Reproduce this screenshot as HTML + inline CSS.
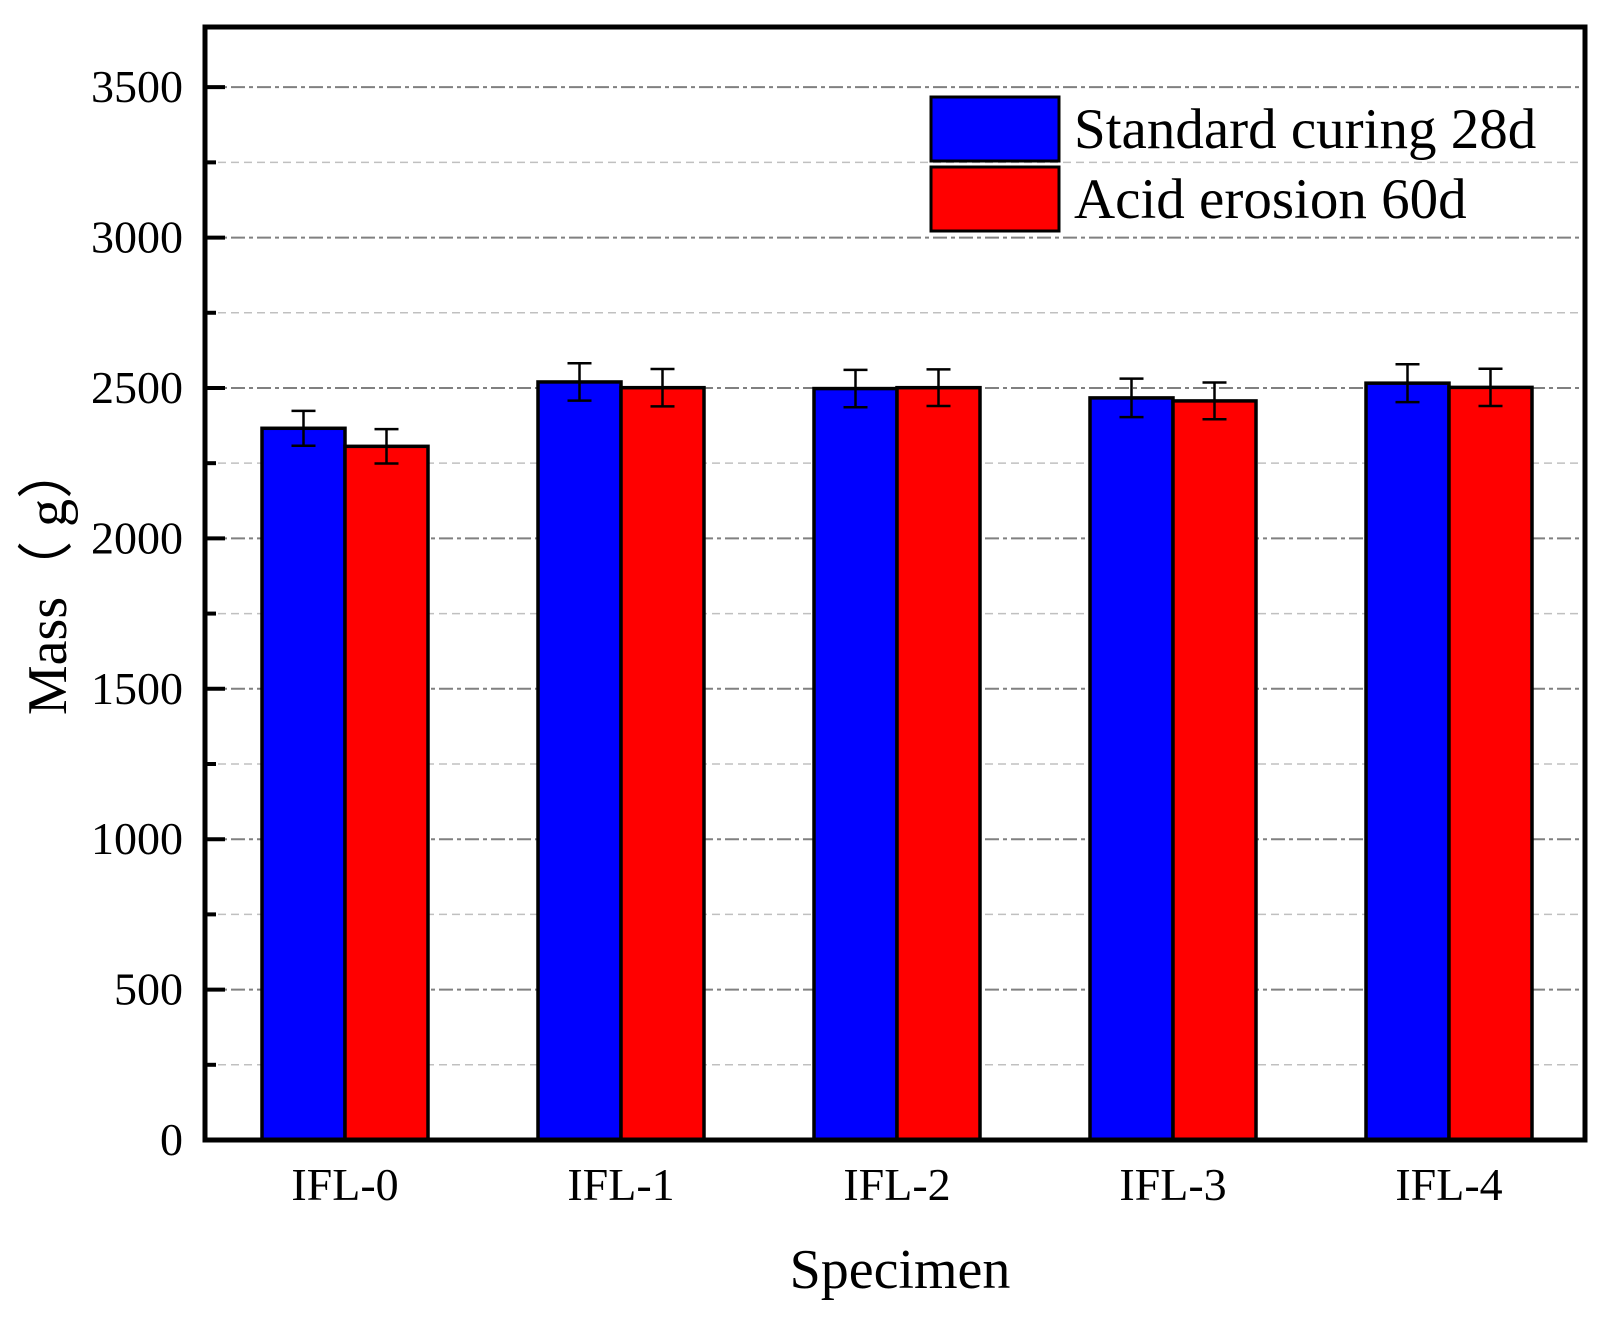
<!DOCTYPE html>
<html><head><meta charset="utf-8"><style>
html,body{margin:0;padding:0;background:#fff;}
svg{display:block;font-family:"Liberation Serif",serif;}
</style></head><body>
<svg id="chart" width="1621" height="1317" viewBox="0 0 1621 1317">
<g id="grid"></g>
<g id="bars"></g>
<g id="axes"></g>
<g>
  <rect x="931" y="97" width="128" height="64" fill="#0000ff" stroke="#000" stroke-width="3"/>
  <rect x="931" y="167" width="128" height="64" fill="#ff0000" stroke="#000" stroke-width="3"/>
  <text x="1074" y="148" font-size="57">Standard curing 28d</text>
  <text x="1074" y="218" font-size="57">Acid erosion 60d</text>
</g>
<text x="900" y="1288" font-size="56" text-anchor="middle">Specimen</text>
<text transform="translate(66,579) rotate(-90)" font-size="56" text-anchor="middle">Mass（ g）</text>
</svg>
<script>
const categories = ["IFL-0","IFL-1","IFL-2","IFL-3","IFL-4"];
const standardValues = [2366, 2520, 2498, 2467, 2516];
const acidValues = [2306, 2501, 2501, 2457, 2502];
const standardErrors = [58, 62, 62, 64, 63];
const acidErrors = [57, 62, 61, 61, 62];
const yTicks = [0, 500, 1000, 1500, 2000, 2500, 3000, 3500];
const yMinorTicks = [250, 750, 1250, 1750, 2250, 2750, 3250];

const NS = "http://www.w3.org/2000/svg";
const L = 205, R = 1585, T = 27, B = 1140, YMAX = 3700;
const y = v => B - v / YMAX * (B - T);
const xc = i => 345 + i * 276;
const BW = 83;
function mk(tag, attrs, parent) {
  const e = document.createElementNS(NS, tag);
  for (const k in attrs) e.setAttribute(k, attrs[k]);
  parent.appendChild(e); return e;
}
const grid = document.getElementById('grid'), bars = document.getElementById('bars'), axes = document.getElementById('axes');

yMinorTicks.forEach(v => {
  const l = mk('line', {x1: L, x2: R, y1: y(v), y2: y(v), stroke: '#c0c0c0', 'stroke-width': 1.5, 'stroke-dasharray': '8 5'}, grid);
  
  
});
yTicks.forEach(v => {
  if (v === 0) return;
  const l = mk('line', {x1: L, x2: R, y1: y(v), y2: y(v), stroke: '#808080', 'stroke-width': 2, 'stroke-dasharray': '14 4 4 4'}, grid);
  
  
});

function drawBar(i, v, err, color, name, x0) {
  const r = mk('rect', {x: x0, y: y(v), width: BW, height: B - y(v), fill: color, stroke: '#000', 'stroke-width': 3.5}, bars);
  
  
  const cx = x0 + BW / 2, t = y(v + err), b = y(v - err);
  const g = mk('path', {d: `M${cx} ${t}V${b}M${cx-12} ${t}H${cx+12}M${cx-12} ${b}H${cx+12}`, stroke: '#000', 'stroke-width': 2.5, fill: 'none'}, bars);
  
  
}
categories.forEach((c, i) => {
  drawBar(i, standardValues[i], standardErrors[i], '#0000ff', 'bar-standard', xc(i) - BW);
  drawBar(i, acidValues[i], acidErrors[i], '#ff0000', 'bar-acid', xc(i));
  const t = mk('text', {x: xc(i), y: 1200, 'font-size': 46, 'text-anchor': 'middle'}, axes);
  t.textContent = c;
  
  
});

const frame = mk('rect', {x: L, y: T, width: R - L, height: B - T, fill: 'none', stroke: '#000', 'stroke-width': 5}, axes);


yTicks.forEach(v => {
  const l = mk('line', {x1: L, x2: L + 20, y1: y(v), y2: y(v), stroke: '#000', 'stroke-width': 4}, axes);
  
  
  const t = mk('text', {x: 183, y: y(v) + 15, 'font-size': 46, 'text-anchor': 'end'}, axes);
  t.textContent = v;
  
  
});
yMinorTicks.forEach(v => {
  const l = mk('line', {x1: L, x2: L + 11, y1: y(v), y2: y(v), stroke: '#000', 'stroke-width': 4}, axes);
  
  
});
</script>
</body></html>
